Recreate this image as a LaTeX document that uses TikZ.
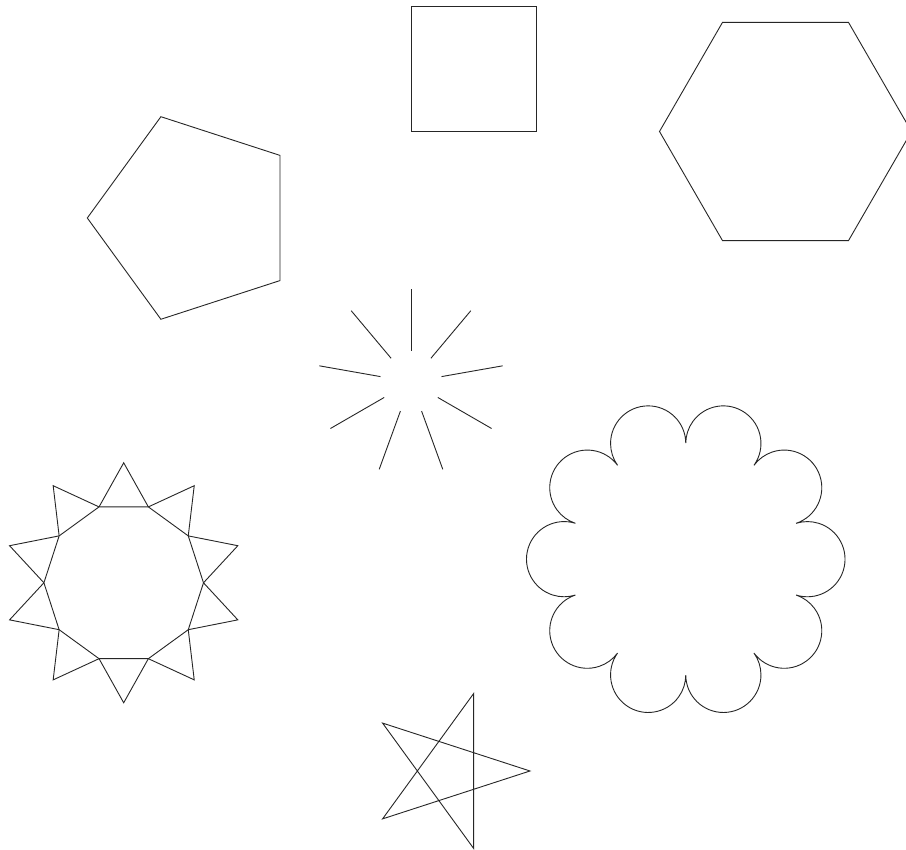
\documentclass[tikz,border=0pt]{standalone}
\begin{document}
\begin{tikzpicture}[x=1pt,y=1pt,line join=miter]
\tikzset{shape line/.style={draw=black!85,line width=0.9pt}}
\useasboundingbox (0,0) rectangle (906,850);
\fill[white] (0,0) rectangle (906,850);
% square
\draw[shape line] (411,843.3) rectangle (536,718.3);
% hexagon
\begin{scope}[shift={(785.5,718.5)}]
\draw[shape line] (0:126) \foreach \a in {60,120,...,300} { -- (\a:126) } -- cycle;
\end{scope}
% pentagon
\begin{scope}[shift={(193.8,632)}]
\draw[shape line] (36:106.5) \foreach \a in {108,180,252,324} { -- (\a:106.5) } -- cycle;
\end{scope}
% burst
\begin{scope}[shift={(411,468)}]
\foreach \k in {0,...,8} {
  \draw[shape line] ({90-40*\k}:31) -- ({90-40*\k}:93);
}
\end{scope}
% decagon with spikes
\begin{scope}[shift={(123.7,267.2)}]
\draw[shape line] (0:79.8) \foreach \k in {1,...,9} { -- ({36*\k}:79.8) } -- cycle;
\foreach \k in {0,...,9} {
  \draw[shape line] ({36*\k}:79.8) -- ({36*\k+18}:120) -- ({36*\k+36}:79.8);
}
\end{scope}
% flower
\begin{scope}[shift={(685.8,290.8)}]
\draw[shape line] (-18:116) \foreach \k in {0,...,9} { arc[start angle={36*\k-107.5}, end angle={36*\k+107.5}, radius=37.6] } -- cycle;
\end{scope}
% pentagram
\begin{scope}[shift={(448.5,79)}]
\draw[shape line] (0:81.5) -- (144:81.5) -- (288:81.5) -- (72:81.5) -- (216:81.5) -- cycle;
\end{scope}
\end{tikzpicture}
\end{document}
